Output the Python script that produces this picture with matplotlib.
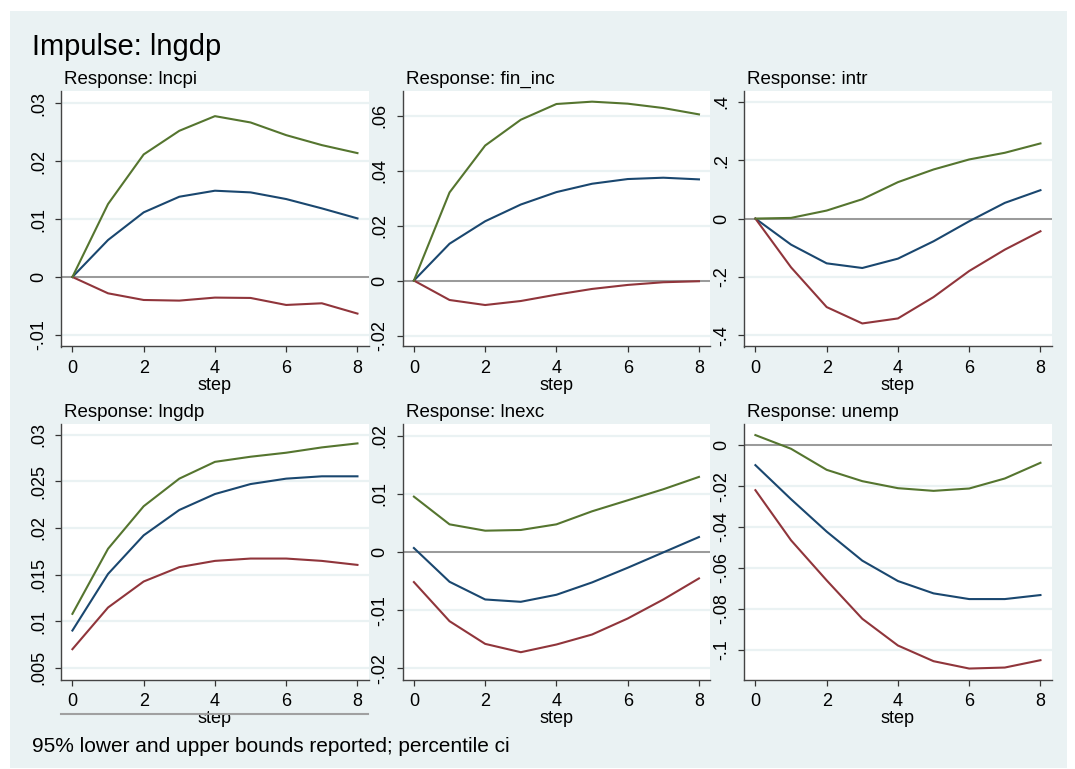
import matplotlib
matplotlib.use("Agg")
import matplotlib.pyplot as plt
from matplotlib.lines import Line2D
from matplotlib.patches import Rectangle

plt.rcParams['font.family'] = ['Liberation Sans', 'DejaVu Sans']

steps = [0, 1, 2, 3, 4, 5, 6, 7, 8]

# --- Response: lncpi ---
lncpi_irf = [0, 0.00638, 0.01115, 0.01385, 0.01489, 0.01460, 0.01345, 0.01184, 0.01011]
lncpi_lo = [0, -0.00282, -0.00397, -0.00408, -0.00356, -0.00362, -0.00483, -0.00454, -0.00632]
lncpi_hi = [0, 0.01259, 0.02115, 0.02523, 0.02776, 0.02667, 0.02448, 0.02276, 0.02138]

# --- Response: fin_inc ---
fin_irf = [0, 0.01341, 0.02159, 0.02768, 0.03220, 0.03524, 0.03695, 0.03744, 0.03683]
fin_lo = [0, -0.00707, -0.00890, -0.00744, -0.00512, -0.00305, -0.00159, -0.00061, -0.00024]
fin_hi = [0, 0.03207, 0.04915, 0.05854, 0.06427, 0.06512, 0.06439, 0.06280, 0.06049]

# --- Response: intr ---
intr_irf = [0, -0.0894, -0.1536, -0.1696, -0.1375, -0.0779, -0.0092, 0.0539, 0.0974]
intr_lo = [0, -0.1673, -0.3037, -0.3599, -0.3427, -0.2693, -0.1799, -0.1066, -0.0436]
intr_hi = [0, 0.0023, 0.0275, 0.0665, 0.1250, 0.1685, 0.2029, 0.2258, 0.2579]

# --- Response: lngdp ---
lngdp_irf = [0.0090, 0.01507, 0.01921, 0.02193, 0.02364, 0.02471, 0.02529, 0.02554, 0.02554]
lngdp_lo = [0.0070, 0.01147, 0.01426, 0.01580, 0.01647, 0.01672, 0.01672, 0.01647, 0.01604]
lngdp_hi = [0.01079, 0.01777, 0.02233, 0.02529, 0.02709, 0.02764, 0.02807, 0.02864, 0.02907]

# --- Response: lnexc ---
lnexc_irf = [0.00069, -0.00511, -0.00815, -0.00855, -0.00734, -0.00522, -0.00270, -0.00006, 0.00258]
lnexc_lo = [-0.00516, -0.01188, -0.01578, -0.01721, -0.01589, -0.01417, -0.01142, -0.00815, -0.00453]
lnexc_hi = [0.00952, 0.00476, 0.00367, 0.00379, 0.00476, 0.00700, 0.00889, 0.01079, 0.01291]

# --- Response: unemp ---
unemp_irf = [-0.00966, -0.02635, -0.04223, -0.05646, -0.06645, -0.07250, -0.07529, -0.07529, -0.07332]
unemp_lo = [-0.02193, -0.04648, -0.06612, -0.08494, -0.09804, -0.10573, -0.10933, -0.10884, -0.10524]
unemp_hi = [0.00507, -0.00164, -0.01195, -0.01751, -0.02095, -0.02226, -0.02111, -0.01620, -0.00851]

titles = ["Response: lncpi", "Response: fin_inc", "Response: intr",
          "Response: lngdp", "Response: lnexc", "Response: unemp"]

yticks = [
    [-0.01, 0, 0.01, 0.02, 0.03],
    [-0.02, 0, 0.02, 0.04, 0.06],
    [-0.4, -0.2, 0, 0.2, 0.4],
    [0.005, 0.01, 0.015, 0.02, 0.025, 0.03],
    [-0.02, -0.01, 0, 0.01, 0.02],
    [-0.1, -0.08, -0.06, -0.04, -0.02, 0],
]
ytick_labels = [
    ["-.01", "0", ".01", ".02", ".03"],
    ["-.02", "0", ".02", ".04", ".06"],
    ["-.4", "-.2", "0", ".2", ".4"],
    [".005", ".01", ".015", ".02", ".025", ".03"],
    ["-.02", "-.01", "0", ".01", ".02"],
    ["-.1", "-.08", "-.06", "-.04", "-.02", "0"],
]
ylims = [
    (-0.0120, 0.0321),
    (-0.0240, 0.0690),
    (-0.4390, 0.4378),
    (0.00375, 0.03115),
    (-0.0219, 0.0220),
    (-0.1147, 0.0105),
]
xticks = [0, 2, 4, 6, 8]

series = [
    (lncpi_irf, lncpi_lo, lncpi_hi),
    (fin_irf, fin_lo, fin_hi),
    (intr_irf, intr_lo, intr_hi),
    (lngdp_irf, lngdp_lo, lngdp_hi),
    (lnexc_irf, lnexc_lo, lnexc_hi),
    (unemp_irf, unemp_lo, unemp_hi),
]

NAVY = "#1A476F"
MAROON = "#90353B"
GREEN = "#55752F"
BG = "#EAF2F3"

W, H = 1075, 769
fig = plt.figure(figsize=(W / 100, H / 100), dpi=100, facecolor="white")

# graph region background
fig.patches.append(Rectangle((10 / W, 1 - 768 / H), (1067 - 10) / W, (768 - 11) / H,
                             transform=fig.transFigure, facecolor=BG, edgecolor="none", zorder=-10))

col_left = [61, 402.5, 744]
pw = 307.5
row_top = [91, 424]
ph = 255.5

for i in range(6):
    r, c = divmod(i, 3)
    left = col_left[c]
    top = row_top[r]
    ax = fig.add_axes([left / W, 1 - (top + ph) / H, pw / W, ph / H])
    ax.set_facecolor("white")
    irf, lo, hi = series[i]
    for yt in yticks[i]:
        ax.axhline(yt, color=BG, lw=1.6, zorder=1)
    ax.axhline(0, color="#999999", lw=1.4, zorder=2)
    ax.plot(steps, irf, color=NAVY, lw=1.5, zorder=3)
    ax.plot(steps, lo, color=MAROON, lw=1.5, zorder=3)
    ax.plot(steps, hi, color=GREEN, lw=1.5, zorder=3)
    ax.set_xlim(-0.32, 8.31)
    ax.set_ylim(*ylims[i])
    ax.set_xticks(xticks)
    ax.set_xticklabels([str(x) for x in xticks])
    ax.set_yticks(yticks[i])
    ax.set_yticklabels(ytick_labels[i], rotation=90, va="center")
    for s in ["top", "right"]:
        ax.spines[s].set_visible(False)
    for s in ["left", "bottom"]:
        ax.spines[s].set_color("#444444")
        ax.spines[s].set_linewidth(1.0)
    ax.tick_params(axis="both", length=4.5, width=0.9, color="#333333",
                   labelsize=13, labelcolor="black", direction="out")
    ax.tick_params(axis="x", pad=5.5)
    ax.tick_params(axis="y", pad=5.5)
    ax.set_xlabel("step", fontsize=13, labelpad=0)
    ax.annotate(titles[i], xy=(0, 1), xycoords="axes fraction", xytext=(2.5, 5),
                textcoords="offset points", ha="left", va="baseline", fontsize=13.5)

fig.text(32 / W, 1 - 55 / H, "Impulse: lngdp", fontsize=21, ha="left", va="baseline")
fig.text(32 / W, 1 - 752 / H, "95% lower and upper bounds reported; percentile ci",
         fontsize=15, ha="left", va="baseline")

fig.lines.append(Line2D([61 / W, 368 / W], [1 - 714 / H, 1 - 714 / H], transform=fig.transFigure,
                        color="#A0A0A0", lw=1.5))

fig.savefig("out.png", dpi=100, facecolor="white")
